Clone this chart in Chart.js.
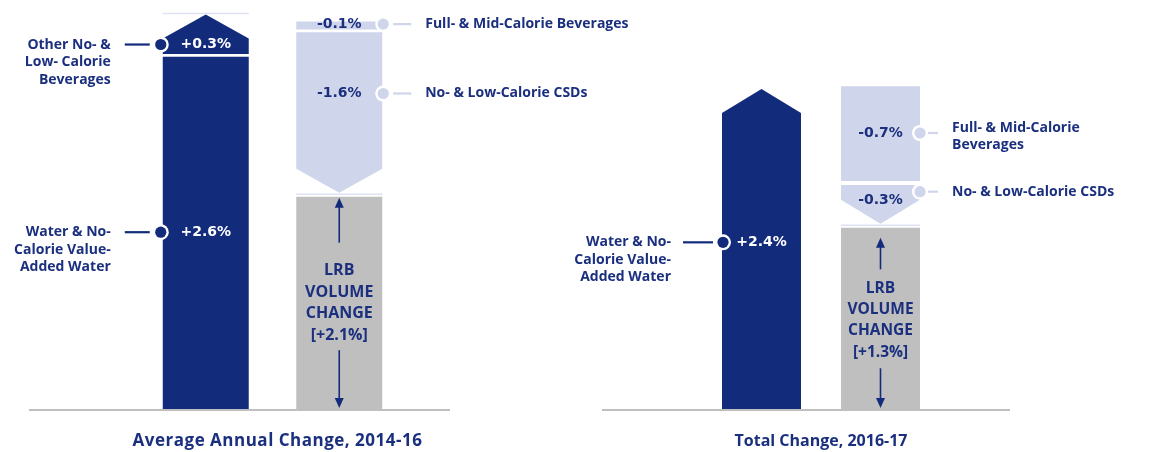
<!DOCTYPE html>
<html><head><meta charset="utf-8">
<script src="https://cdn.jsdelivr.net/npm/chart.js@4.4.0/dist/chart.umd.min.js"></script>
<style>
html,body{margin:0;padding:0;background:#fff;}
#wrap{position:relative;width:1164px;height:452px;overflow:hidden;background:#fff;}
.panel{position:absolute;top:0;height:452px;}
</style></head><body>
<div id="wrap">
  <div class="panel" style="left:0;width:650px"><canvas id="c1" width="650" height="452"></canvas></div>
  <div class="panel" style="left:540px;width:624px"><canvas id="c2" width="624" height="452"></canvas></div>
</div>
<script>
// ================= DATA =================
const categories = ['Increases', 'Decreases & Net'];

// Panel 1 – Average Annual Change, 2014-16
const p1Title = 'Average Annual Change, 2014-16';
const p1Labels = ['+2.6%', '+0.3%', '-0.1%', '-1.6%', '+2.1%'];
// bar extents as drawn in the picture (axis units, % points)
const p1From = [0, 2.61, 2.85, 2.77, 0];
const p1To   = [2.59, 2.9, 2.79, 1.59, 1.56];
const p1Column = [0, 0, 1, 1, 1];
const p1Kind = ['gain', 'gain', 'loss', 'loss', 'net'];
const p1CalloutText = [
  ['Water & No-', 'Calorie Value-', 'Added Water'],
  ['Other No- &', 'Low- Calorie', 'Beverages'],
  ['Full- & Mid-Calorie Beverages'],
  ['No- & Low-Calorie CSDs'],
  null
];
const p1CalloutAt = [1.30, 2.68, 2.83, 2.32, null];

// Panel 2 – Total Change, 2016-17
const p2Title = 'Total Change, 2016-17';
const p2Labels = ['+2.4%', '-0.7%', '-0.3%', '+1.3%'];
const p2From = [0, 2.42, 1.68, 0];
const p2To   = [2.4, 1.71, 1.39, 1.36];
const p2Column = [0, 1, 1, 1];
const p2Kind = ['gain', 'loss', 'loss', 'net'];
const p2CalloutText = [
  ['Water & No-', 'Calorie Value-', 'Added Water'],
  ['Full- & Mid-Calorie', 'Beverages'],
  ['No- & Low-Calorie CSDs'],
  null
];
const p2CalloutAt = [1.25, 2.07, 1.63, null];

const netWords = ['LRB', 'VOLUME', 'CHANGE'];

// ================= STYLE =================
const NAVY = '#122b7b';
const TEXT = '#1b2f7f';
const LIGHT = '#cfd5ea';
const GRAY = '#bfbfbf';
const kindColor = {gain: NAVY, loss: LIGHT, net: GRAY};

const panelStyle = {
  c1: {padding: {left: 139, right: 244, top: 1, bottom: 43}, barPct: 0.644, yMax: 3,
       axisExt: [110, 44], darkLine: [36, 11], lightLine: [10, 28], darkTextGap: 50, lightTextGap: 42,
       netFont: 16, netLineH: 21.5, upGap: 28, downGap: 15, upTipGap: 1, topLine: true, netDy: 0,
       titleFont: 17, titleSpacing: '0.5px', titleDx: 5, valueDy: {}, textDy: {}, markerDx: {gain: -2, loss: 1}},
  c2: {padding: {left: 162, right: 224, top: 9, bottom: 43}, barPct: 0.664, yMax: 3,
       axisExt: [100, 70], darkLine: [40, 10], lightLine: [8, 18], darkTextGap: 52, lightTextGap: 32,
       netFont: 15.5, netLineH: 21.3, upGap: 19, downGap: 16, upTipGap: 10, topLine: false, netDy: 2,
       titleFont: 16, titleSpacing: '0px', titleDx: 0, valueDy: {2: 9}, textDy: {1: -5}, markerDx: {gain: 1, loss: 0}}
};
const headH = 24;
const valueFont = 'bold 14px "DejaVu Sans"';
const calloutFont = 'bold 14px "Open Sans"';

const panels = {
  c1: {title: p1Title, labels: p1Labels, from: p1From, to: p1To, column: p1Column, kind: p1Kind, ctext: p1CalloutText, cat: p1CalloutAt},
  c2: {title: p2Title, labels: p2Labels, from: p2From, to: p2To, column: p2Column, kind: p2Kind, ctext: p2CalloutText, cat: p2CalloutAt}
};

function lastIndexOf(arr, v) { let r = -1; arr.forEach((x, i) => { if (x === v) r = i; }); return r; }
function box(el) {
  const {x, y, base, width} = el.getProps(['x', 'y', 'base', 'width'], true);
  return {x, width, top: Math.min(y, base), bot: Math.max(y, base)};
}

const decor = {
  id: 'decor',
  beforeDatasetsDraw(chart) {
    const st = panelStyle[chart.canvas.id];
    const ctx = chart.ctx, a = chart.chartArea;
    const y0 = chart.scales.y.getPixelForValue(0) + 1;
    ctx.save();
    ctx.strokeStyle = GRAY; ctx.lineWidth = 2;
    ctx.beginPath(); ctx.moveTo(a.left - st.axisExt[0], y0); ctx.lineTo(a.right + st.axisExt[1], y0); ctx.stroke();
    ctx.restore();
  },
  beforeDatasetDraw(chart, args) {
    const ds = chart.data.datasets[args.index];
    if (!ds.arrow) return;
    const ctx = chart.ctx;
    ctx.save();
    ctx.fillStyle = ds.backgroundColor;
    args.meta.data.forEach((el, j) => {
      if (ds.data[j] == null) return;
      const b = box(el);
      const up = ds.arrow === 'up';
      const tip = up ? b.top : b.bot;
      const base = up ? b.bot : b.top;
      const sh = up ? tip + headH : tip - headH;
      const l = b.x - b.width / 2, r = b.x + b.width / 2;
      ctx.beginPath();
      ctx.moveTo(l, base); ctx.lineTo(l, sh); ctx.lineTo(b.x, tip); ctx.lineTo(r, sh); ctx.lineTo(r, base);
      ctx.closePath(); ctx.fill();
    });
    ctx.restore();
    return false;
  },
  afterDatasetsDraw(chart) {
    const id = chart.canvas.id;
    const st = panelStyle[id], P = panels[id];
    const ctx = chart.ctx, ys = chart.scales.y, a = chart.chartArea;
    const elOf = i => box(chart.getDatasetMeta(i).data[P.column[i]]);
    ctx.save();
    // connector lines
    const gTop = lastIndexOf(P.kind, 'gain'), lBot = lastIndexOf(P.kind, 'loss');
    ctx.strokeStyle = '#dde1f1'; ctx.lineWidth = 1.5;
    if (st.topLine) {
      const e = elOf(gTop);
      ctx.beginPath(); ctx.moveTo(e.x - e.width / 2, e.top - 1); ctx.lineTo(e.x + e.width / 2, e.top - 1); ctx.stroke();
    }
    {
      const e = elOf(lBot);
      ctx.beginPath(); ctx.moveTo(e.x - e.width / 2, e.bot + 1.5); ctx.lineTo(e.x + e.width / 2, e.bot + 1.5); ctx.stroke();
    }
    P.kind.forEach((k, i) => {
      const e = elOf(i);
      if (k === 'net') {
        const top = e.top, bot = e.bot, cx = e.x;
        const lines = netWords.concat(['[' + P.labels[i] + ']']);
        const mid = (top + bot) / 2 + st.netDy;
        const first = mid - (lines.length - 1) / 2 * st.netLineH;
        const last = first + (lines.length - 1) * st.netLineH;
        ctx.fillStyle = TEXT; ctx.font = 'bold ' + st.netFont + 'px "Open Sans"';
        ctx.textAlign = 'center'; ctx.textBaseline = 'middle';
        lines.forEach((t, n) => ctx.fillText(t, cx, first + n * st.netLineH));
        ctx.strokeStyle = NAVY; ctx.fillStyle = NAVY; ctx.lineWidth = 1.6;
        const upTip = top + st.upTipGap, upEnd = first - st.upGap;
        ctx.beginPath(); ctx.moveTo(cx, upTip + 8); ctx.lineTo(cx, upEnd); ctx.stroke();
        ctx.beginPath(); ctx.moveTo(cx, upTip); ctx.lineTo(cx - 4.5, upTip + 10); ctx.lineTo(cx + 4.5, upTip + 10); ctx.closePath(); ctx.fill();
        const dnTip = bot - 1, dnStart = last + st.downGap;
        ctx.beginPath(); ctx.moveTo(cx, dnStart); ctx.lineTo(cx, dnTip - 8); ctx.stroke();
        ctx.beginPath(); ctx.moveTo(cx, dnTip); ctx.lineTo(cx - 4.5, dnTip - 10); ctx.lineTo(cx + 4.5, dnTip - 10); ctx.closePath(); ctx.fill();
        return;
      }
      const my = ys.getPixelForValue(P.cat[i]);
      const gain = k === 'gain';
      const mx = gain ? e.x - e.width / 2 + st.markerDx.gain : e.x + e.width / 2 + st.markerDx.loss;
      const col = gain ? NAVY : LIGHT;
      // leader line
      ctx.strokeStyle = col; ctx.lineWidth = 2.2;
      ctx.beginPath();
      if (gain) { ctx.moveTo(mx - st.darkLine[0], my); ctx.lineTo(mx - st.darkLine[1], my); }
      else { ctx.moveTo(mx + st.lightLine[0], my); ctx.lineTo(mx + st.lightLine[1], my); }
      ctx.stroke();
      // marker with white ring
      ctx.beginPath(); ctx.arc(mx, my, 8, 0, Math.PI * 2); ctx.fillStyle = '#ffffff'; ctx.fill();
      ctx.beginPath(); ctx.arc(mx, my, 5.6, 0, Math.PI * 2); ctx.fillStyle = col; ctx.fill();
      // callout text
      const tdy = st.textDy[i] || 0;
      ctx.fillStyle = TEXT; ctx.font = calloutFont; ctx.textBaseline = 'middle';
      ctx.textAlign = gain ? 'right' : 'left';
      const tx = gain ? mx - st.darkTextGap : mx + st.lightTextGap;
      P.ctext[i].forEach((t, n) => ctx.fillText(t, tx, my + tdy + n * 17.5));
      // value label
      const vdy = st.valueDy[i] || 0;
      ctx.font = valueFont; ctx.textAlign = 'center';
      ctx.fillStyle = gain ? '#ffffff' : TEXT;
      ctx.fillText(P.labels[i], e.x, my + vdy);
    });
    // title
    ctx.fillStyle = TEXT; ctx.font = 'bold ' + st.titleFont + 'px "Open Sans"';
    ctx.textAlign = 'center'; ctx.textBaseline = 'middle';
    ctx.letterSpacing = st.titleSpacing;
    ctx.fillText(P.title, (a.left + a.right) / 2 + st.titleDx, 441);
    ctx.letterSpacing = '0px';
    ctx.restore();
  }
};

function build(id) {
  const P = panels[id], st = panelStyle[id];
  const gTop = lastIndexOf(P.kind, 'gain'), lBot = lastIndexOf(P.kind, 'loss');
  const datasets = P.kind.map((k, i) => ({
    label: P.labels[i],
    data: categories.map((c, j) => j === P.column[i] ? [P.from[i], P.to[i]] : null),
    backgroundColor: kindColor[k],
    borderWidth: 0,
    grouped: false,
    categoryPercentage: 1,
    barPercentage: st.barPct,
    arrow: i === gTop ? 'up' : (i === lBot ? 'down' : false)
  }));
  new Chart(document.getElementById(id), {
    type: 'bar',
    data: {labels: categories, datasets},
    options: {
      responsive: false, animation: false,
      layout: {padding: st.padding},
      plugins: {legend: {display: false}, tooltip: {enabled: false}},
      scales: {
        x: {display: false},
        y: {display: false, min: 0, max: st.yMax}
      }
    },
    plugins: [decor]
  });
}
build('c1');
build('c2');
</script>
</body></html>
